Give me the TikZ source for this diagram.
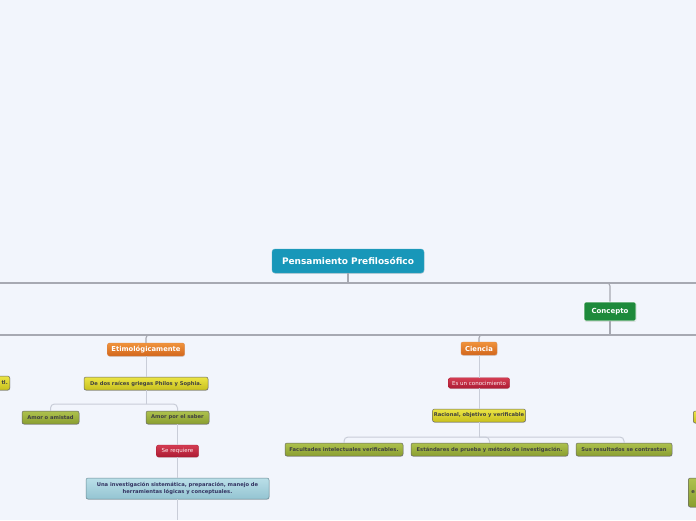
\documentclass[tikz,border=0pt]{standalone}
\usepackage{fontspec}
\setmainfont{DejaVu Sans}
\usetikzlibrary{shadows}
\definecolor{fondo}{HTML}{F2F5FC}
\definecolor{linea}{HTML}{A7A9B2}
\definecolor{lineaclara}{HTML}{C9CDD8}
\definecolor{azulraiz}{HTML}{1897B9}
\definecolor{verdeconc}{HTML}{1E8A3B}
\definecolor{naranjaA}{HTML}{F0933C}
\definecolor{naranjaB}{HTML}{D2661C}
\definecolor{rojoA}{HTML}{D43C52}
\definecolor{rojoB}{HTML}{AC1B33}
\definecolor{amarilloA}{HTML}{ECE545}
\definecolor{amarilloB}{HTML}{C8C01E}
\definecolor{olivaA}{HTML}{AEC24E}
\definecolor{olivaB}{HTML}{8A9E30}
\definecolor{celesteA}{HTML}{BADFE8}
\definecolor{celesteB}{HTML}{94C4D2}
\newcommand{\letrachica}{\fontsize{5.2}{6.5}\selectfont\bfseries}

\begin{document}
\begin{tikzpicture}[x=1pt,y=-1pt,
  caja/.style={rounded corners=2pt, inner sep=0pt, align=center,
    drop shadow={shadow xshift=0.4pt, shadow yshift=-0.8pt, opacity=0.25}},
  raizbox/.style={caja, rounded corners=3pt, fill=azulraiz, draw=azulraiz!80!white, text=white,
    font=\fontsize{9}{10}\selectfont\bfseries},
  concbox/.style={caja, fill=verdeconc, draw=white, line width=0.6pt, text=white,
    font=\fontsize{7}{8}\selectfont\bfseries},
  temabox/.style={caja, top color=naranjaA, bottom color=naranjaB, draw=naranjaB!80!white, text=white,
    font=\fontsize{6.8}{8}\selectfont\bfseries},
  rojobox/.style={caja, top color=rojoA, bottom color=rojoB, draw=rojoB, text=white!92!rojoA,
    font=\fontsize{5.5}{6.5}\selectfont},
  amabox/.style={caja, top color=amarilloA, bottom color=amarilloB, draw=gray!80!black, line width=0.5pt,
    text=black!75, font=\letrachica},
  olibox/.style={caja, top color=olivaA, bottom color=olivaB, draw=gray!80!black, line width=0.5pt,
    text=black!75, font=\letrachica},
  celbox/.style={caja, top color=celesteA, bottom color=celesteB, draw=celesteB!70!black, line width=0.5pt,
    text=black!70!blue!60!gray, font=\letrachica},
  tronco/.style={draw=linea, line width=1.1pt},
  rama/.style={draw=lineaclara, line width=1pt}]
\fill[fondo] (0,0) rectangle (696,520);
\useasboundingbox (0,0) rectangle (696,520);

\node[raizbox, minimum width=152pt, minimum height=24pt] (raiz) at (348,261) {Pensamiento Prefilosófico};
\node[concbox, minimum width=52pt, minimum height=19pt] (concepto) at (610,311.5) {Concepto};

\node[temabox, minimum width=77pt, minimum height=13pt] (etimo) at (146,349.5) {Etimológicamente};
\node[amabox, minimum width=124pt, minimum height=13pt] (dedos) at (146,383.5) {De dos raíces griegas Philos y Sophia.};
\node[olibox, minimum width=57pt, minimum height=13pt] (amistad) at (50.5,417.5) {Amor o amistad};
\node[olibox, minimum width=63pt, minimum height=13pt] (saber) at (177.5,417.5) {Amor por el saber};
\node[rojobox, minimum width=42pt, minimum height=12pt] (requiere) at (177.5,451) {Se requiere};
\node[celbox, minimum width=183pt, minimum height=21pt] (investig) at (177.5,488.5)
  {Una investigación sistemática, preparación, manejo de\\herramientas lógicas y conceptuales.};

\node[temabox, minimum width=36pt, minimum height=13pt] (ciencia) at (479,348.5) {Ciencia};
\node[rojobox, minimum width=61pt, minimum height=10.5pt] (conoc) at (479,383) {Es un conocimiento};
\node[amabox, minimum width=93pt, minimum height=13pt] (racional) at (479,415.5) {Racional, objetivo y verificable};
\node[olibox, minimum width=118pt, minimum height=13pt] (facult) at (344,449.5) {Facultades intelectuales verificables.};
\node[olibox, minimum width=157pt, minimum height=13pt] (estand) at (489.5,449.5) {Estándares de prueba y método de investigación.};
\node[olibox, minimum width=96pt, minimum height=13pt] (contrast) at (624,449.5) {Sus resultados se contrastan};

% nodos cortados por el borde
\node[amabox, anchor=east, minimum height=14pt, text width=50pt, align=right, inner xsep=2pt] (izq) at (10,383) {tl.};
\node[amabox, anchor=west, minimum width=40pt, minimum height=12pt] (derA) at (693,417) {};
\node[olibox, anchor=west, minimum height=29pt, text width=50pt, align=left, inner xsep=3pt] (derB) at (688,492.5) {e};

\coordinate (busAizq) at (0,283);
\coordinate (busAder) at (696,283);
\coordinate (busBizq) at (0,335);
\coordinate (busBder) at (696,335);
\coordinate (partE) at (146,404);
\coordinate (partC) at (479,437);
\coordinate (finU) at (177.5,520);

\draw[tronco] (busAizq) -- (busAder);
\draw[tronco] (raiz.south) -- (raiz.south |- busAizq);
\draw[tronco, rounded corners=3pt] (raiz.south |- busAizq) -| (concepto.north);
\draw[tronco] (concepto.south) -- (concepto.south |- busBizq);
\draw[tronco] (busBizq) -- (busBder);
\draw[tronco, rounded corners=3pt] (concepto.south |- busBizq) -| (etimo.north);
\draw[tronco, rounded corners=3pt] (concepto.south |- busBizq) -| (ciencia.north);

\draw[rama] (etimo.south) -- (dedos.north);
\draw[rama] (dedos.south) -- (partE);
\draw[rama, rounded corners=4pt] (partE) -| (amistad.north);
\draw[rama, rounded corners=4pt] (partE) -| (saber.north);
\draw[rama] (saber.south) -- (requiere.north);
\draw[rama] (requiere.south) -- (investig.north);
\draw[rama] (investig.south) -- (finU);

\draw[rama] (ciencia.south) -- (conoc.north);
\draw[rama] (conoc.south) -- (racional.north);
\draw[rama] (racional.south) -- (partC);
\draw[rama, rounded corners=4pt] (partC) -| (facult.north);
\draw[rama, rounded corners=4pt] (partC) -| (estand.north);
\draw[rama, rounded corners=4pt] (partC) -| (contrast.north);
\end{tikzpicture}
\end{document}
